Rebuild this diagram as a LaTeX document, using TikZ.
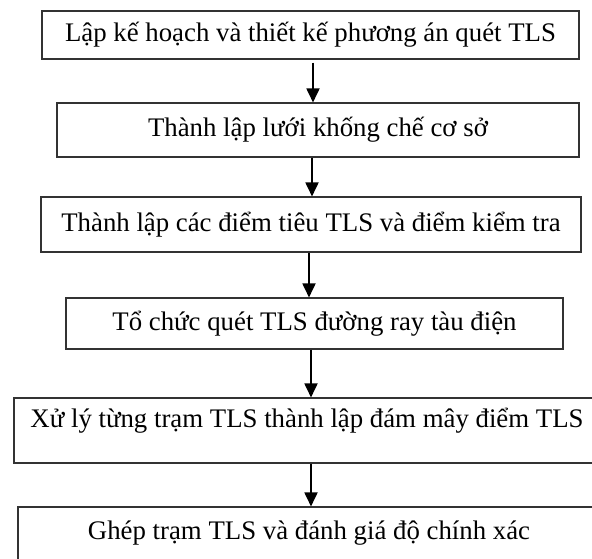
\documentclass[tikz,border=0pt]{standalone}
\usepackage{fontspec}
\setmainfont{Liberation Serif}
\usetikzlibrary{arrows.meta}
\tikzset{
  stepbox/.style={draw=black!80,line width=1.1pt,inner sep=0pt,font=\fontsize{26.8}{32}\selectfont},
  flow/.style={line width=1.8pt,-{Triangle[width=13pt,length=14pt]}}
}
\begin{document}
\begin{tikzpicture}[x=1pt,y=-1pt]
	    \useasboundingbox (0,0) rectangle (592,559);
	    \node[stepbox,minimum width=537,minimum height=48](b1) at (310.5,35){Lập kế hoạch và thiết kế phương án quét TLS};
	    \node[stepbox,minimum width=522,minimum height=54](b2) at (318,130){Thành lập lưới khống chế cơ sở};
	    \node[stepbox,minimum width=540,minimum height=55](b3) at (311,224.5){Thành lập các điểm tiêu TLS và điểm kiểm tra};
	    \node[stepbox,minimum width=497,minimum height=51](b4) at (314.5,323.5){Tổ chức quét TLS đường ray tàu điện};
	    \node[stepbox,minimum width=586,minimum height=65,text depth=26pt](b5) at (307,430.5){Xử lý từng trạm TLS thành lập đám mây điểm TLS};
	    \node[stepbox,minimum width=582,minimum height=60,text depth=14pt](b6) at (309,537){Ghép trạm TLS và đánh giá độ chính xác};
	    \draw[flow]([xshift=2.5pt,yshift=-3pt]b1.south)--([xshift=2.5pt]b1.south|-b2.north);
	    \draw[flow]([xshift=-6pt]b2.south)--([xshift=-6pt]b2.south|-b3.north);
	    \draw[flow]([xshift=-2pt]b3.south)--([xshift=-2pt]b3.south|-b4.north);
	    \draw[flow]([xshift=-3.5pt]b4.south)--([xshift=-3.5pt]b4.south|-b5.north);
	    \draw[flow]([xshift=4pt]b5.south)--([xshift=4pt]b5.south|-b6.north);
\end{tikzpicture}
\end{document}
